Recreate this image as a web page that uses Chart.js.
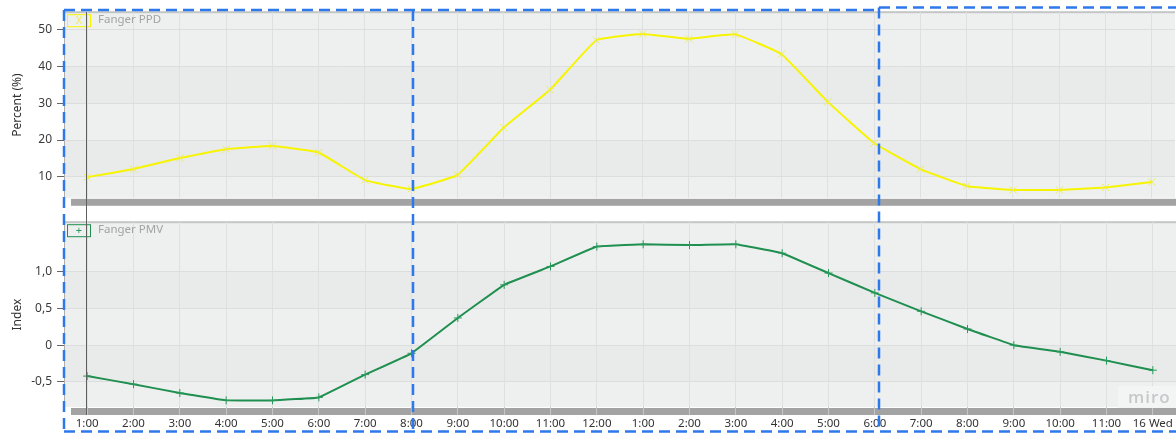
<!DOCTYPE html>
<html>
<head>
<meta charset="utf-8">
<script src="https://cdn.jsdelivr.net/npm/chart.js@4.4.0/dist/chart.umd.min.js"></script>
<style>
    html, body {margin: 0; padding: 0; background: #fff; overflow: hidden;}
    #wrap {position: relative; width: 1176px; height: 433px; overflow: hidden; background: #fff;}
    #top {position: absolute; left: 0; top: 0;}
    #bot {position: absolute; left: 0; top: 210px;}
    #cursor {position: absolute; left: 86px; top: 12px; width: 1px; height: 403px; background: #5e5e5e;}
    #miro {position: absolute; left: 1118px; top: 386px; width: 58px; height: 22px; background: #f3f4f4;
           color: #c6c8c9; font: 600 17px "Open Sans", sans-serif; letter-spacing: 1px; line-height: 21px; padding-left: 10px; box-sizing: border-box;}
    #ov {position: absolute; left: 0; top: 0; pointer-events: none;}
</style>
</head>
<body>
<div id="wrap">
    <canvas id="top" width="1181" height="210"></canvas>
    <canvas id="bot" width="1181" height="223"></canvas>
    <div id="cursor"></div>
    <div id="miro">miro</div>
    <svg id="ov" width="1176" height="433">
        <g stroke="#2d78ea" stroke-width="2.5" stroke-dasharray="11 6" fill="none">
            <line x1="64" y1="10" x2="879" y2="10"/>
            <line x1="879" y1="7.5" x2="1176" y2="7.5"/>
            <line x1="64" y1="10" x2="64" y2="432"/>
            <line x1="413" y1="10" x2="413" y2="432"/>
            <line x1="879" y1="7.5" x2="879" y2="432"/>
            <line x1="64" y1="431.5" x2="1176" y2="431.5"/>
        </g>
    </svg>
</div>
<script>
var hours = ['1:00', '2:00', '3:00', '4:00', '5:00', '6:00', '7:00', '8:00', '9:00', '10:00', '11:00', '12:00',
             '1:00', '2:00', '3:00', '4:00', '5:00', '6:00', '7:00', '8:00', '9:00', '10:00', '11:00', '16 Wed'];
var ppd = [9.9, 12.1, 15.1, 17.5, 18.4, 16.6, 9.1, 6.7, 10.5, 23.4, 33.7, 47.2,
           48.9, 47.6, 48.8, 43.4, 30.4, 19.2, 12.1, 7.5, 6.4, 6.4, 7.1, 8.6];
var pmv = [-0.42, -0.53, -0.65, -0.75, -0.75, -0.71, -0.40, -0.11, 0.37, 0.82, 1.07, 1.34,
           1.37, 1.36, 1.37, 1.25, 0.98, 0.71, 0.46, 0.22, 0.0, -0.09, -0.21, -0.34];
var ppdTicks = [10, 20, 30, 40, 50];
var pmvTicks = [-0.5, 0, 0.5, 1.0];

Chart.defaults.font.family = '"Noto Sans", sans-serif';
Chart.defaults.animation = false;

// panel background, bands, scrollbar and the little legend box
var panelDeco = {
    id: 'panelDeco',
    beforeDraw: function (chart, args, opts) {
        var ctx = chart.ctx, a = chart.chartArea, y = chart.scales.y;
        ctx.save();
        ctx.fillStyle = '#eef0ef';
        ctx.fillRect(a.left, a.top, a.right - a.left, a.bottom - a.top);
        ctx.fillStyle = '#e9eaea';
        for (var i = 0; i + 1 < opts.ticks.length; i += 2) {
            var y1 = y.getPixelForValue(opts.ticks[i]), y2 = y.getPixelForValue(opts.ticks[i + 1]);
            ctx.fillRect(a.left, y2, a.right - a.left, y1 - y2);
        }
        ctx.fillStyle = '#c4c5c5';
        ctx.fillRect(a.left, a.top - 1, a.right - a.left, 2);
        ctx.fillStyle = '#a3a3a3';
        ctx.fillRect(a.left + 7, a.bottom + 1, a.right - a.left, 7);
        ctx.restore();
    },
    afterDraw: function (chart, args, opts) {
        var ctx = chart.ctx, a = chart.chartArea, ds = chart.data.datasets[0];
        ctx.save();
        ctx.strokeStyle = ds.borderColor;
        ctx.lineWidth = 1;
        ctx.strokeRect(a.left + 3.5, a.top + 2.5, 23, 12);
        ctx.fillStyle = ds.pointBorderColor;
        ctx.font = '11px "Noto Sans"';
        ctx.textAlign = 'center';
        ctx.textBaseline = 'middle';
        ctx.fillText(opts.mark, a.left + 15, a.top + 9);
        ctx.fillStyle = '#a3a3a3';
        ctx.textAlign = 'left';
        ctx.font = '11.5px "Noto Sans"';
        ctx.fillText(ds.label, a.left + 34, a.top + 8);
        ctx.restore();
    }
};

function yAxis(title, min, max, ticks, fmt) {
    return {
        min: min,
        max: max,
        afterFit: function (s) { s.width = 64; },
        afterBuildTicks: function (s) { s.ticks = ticks.map(function (v) { return {value: v}; }); },
        title: {display: true, text: title, color: '#333', font: {size: 12}, padding: {top: 10, bottom: 0}},
        ticks: {color: '#3a3a3a', font: {size: 12}, padding: 5, callback: fmt},
        grid: {color: '#dcdddd', tickLength: 7, tickColor: '#666'},
        border: {color: '#adadad'}
    };
}

new Chart(document.getElementById('top'), {
    type: 'line',
    data: {
        labels: hours,
        datasets: [{
            label: 'Fanger PPD',
            data: ppd,
            borderColor: '#f7f400',
            borderWidth: 2,
            tension: 0.1,
            pointStyle: 'crossRot',
            pointRadius: 5,
            pointBorderColor: '#eded55',
            pointBorderWidth: 1
        }]
    },
    options: {
        responsive: false,
        layout: {padding: {top: 12, right: 0, left: 0, bottom: 0}},
        plugins: {legend: {display: false}, tooltip: {enabled: false}, panelDeco: {ticks: ppdTicks, mark: 'X'}},
        scales: {
            x: {
                offset: true,
                afterFit: function (s) { s.height = 10; },
                ticks: {display: false},
                grid: {offset: false, color: '#dfe0e0', drawTicks: false},
                border: {display: false}
            },
            y: yAxis('Percent (%)', 4.27, 54.84, ppdTicks, function (v) { return v; })
        }
    },
    plugins: [panelDeco]
});

new Chart(document.getElementById('bot'), {
    type: 'line',
    data: {
        labels: hours,
        datasets: [{
            label: 'Fanger PMV',
            data: pmv,
            borderColor: '#1f8f50',
            borderWidth: 2,
            tension: 0.05,
            pointStyle: 'cross',
            pointRadius: 4,
            pointBorderColor: '#2a9a5c',
            pointBorderWidth: 1
        }]
    },
    options: {
        responsive: false,
        layout: {padding: {top: 10, right: 0, left: 0, bottom: 0}},
        plugins: {legend: {display: false}, tooltip: {enabled: false}, panelDeco: {ticks: pmvTicks, mark: '+'}},
        scales: {
            x: {
                offset: true,
                afterFit: function (s) { s.height = 26; },
                ticks: {color: '#333', font: {size: 11.5}, padding: 2, maxRotation: 0, autoSkip: false},
                grid: {offset: false, color: '#dfe0e0', tickLength: 8, tickColor: '#c6c6c6'},
                border: {display: false}
            },
            y: yAxis('Index', -0.84, 1.671, pmvTicks, function (v) {
                return v === 0 ? '0' : v.toFixed(1).replace('.', ',');
            })
        }
    },
    plugins: [panelDeco]
});
</script>
</body>
</html>
